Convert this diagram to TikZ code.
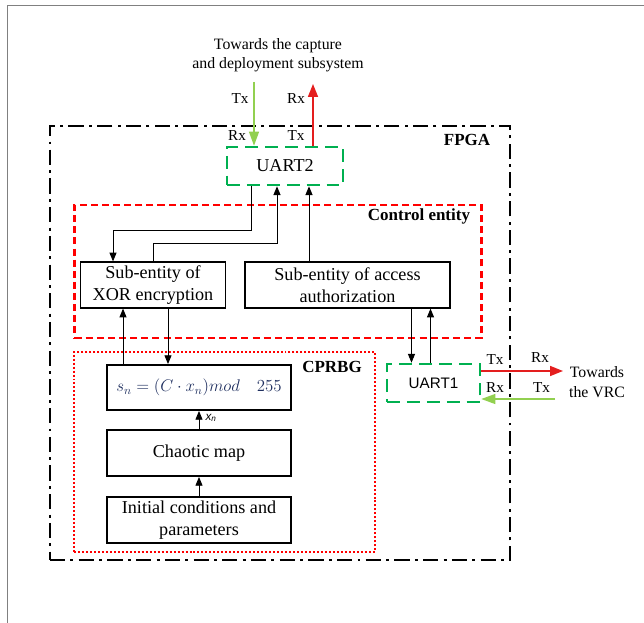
\documentclass[tikz,border=0pt]{standalone}
\usepackage{fontspec}
\setmainfont{Liberation Serif}
\newfontfamily\serifx{Liberation Serif}
\newfontfamily\uartsans{Liberation Sans}
\usetikzlibrary{arrows.meta}
\definecolor{boxgreen}{HTML}{00B050}
\definecolor{lightgreen}{HTML}{92D050}
\definecolor{mathnavy}{HTML}{1F2F5F}
\definecolor{arrred}{HTML}{E41E1E}
\begin{document}
\begin{tikzpicture}[x=0.03cm,y=-0.03cm,
  blk/.style={draw, line width=1.6pt, align=center, inner sep=0pt,
    font=\serifx\fontsize{15.5}{18.5}\selectfont},
  uartbox/.style={draw=boxgreen, line width=2.2pt, dash pattern=on 11pt off 6pt,
    inner sep=0pt, minimum width=3.48cm, minimum height=1.14cm},
  fpgabox/.style={draw, line width=2pt, dash pattern=on 13pt off 4.5pt on 2.5pt off 4.5pt,
    inner sep=0pt},
  ctrlbox/.style={draw=red, line width=2pt, dash pattern=on 6pt off 3.5pt, inner sep=0pt},
  prbgbox/.style={draw=red, line width=1.7pt, dash pattern=on 1.7pt off 1.7pt, inner sep=0pt},
  conn/.style={line width=0.8pt, -{Triangle[length=7.5pt,width=6pt]}},
  greenarr/.style={draw=lightgreen, line width=1.2pt, -{Triangle[length=12pt,width=8.5pt]}},
  redarr/.style={draw=arrred, line width=1.2pt, -{Triangle[length=11pt,width=8.5pt]}},
  lbl/.style={font=\serifx\fontsize{13}{15}\selectfont, inner sep=0pt},
  grp/.style={font=\serifx\bfseries\fontsize{14.5}{17}\selectfont, inner sep=0pt},
  ext/.style={font=\serifx\fontsize{13.5}{16.5}\selectfont, align=center, inner sep=0pt}
]
\useasboundingbox (0,0) rectangle (644,623);
\draw[gray, line width=0.6pt] (7,623) -- (7,5) -- (644,5);

% containers
\node[fpgabox, minimum width=13.8cm, minimum height=13.02cm] (fpga) at (280,343) {};
\node[grp] (fpgalbl) at (467,140) {FPGA};
\node[ctrlbox, minimum width=12.21cm, minimum height=3.99cm] (ctrl) at (278,271.5) {};
\node[grp] (ctrllbl) at (419,216.5) {Control entity};
\node[prbgbox, minimum width=9.03cm, minimum height=6cm] (prbg) at (224.5,452) {};
\node[grp] (prbglbl) at (332,366.5) {CPRBG};

% blocks
\node[uartbox, font=\serifx\fontsize{15.5}{18}\selectfont] (uart2) at (285,166) {UART2};
\node[uartbox, minimum width=2.79cm, font=\uartsans\fontsize{13}{15}\selectfont] (uart1) at (433.5,383) {UART1};
\node[blk, minimum width=4.35cm, minimum height=1.36cm] (xor) at (153,285) {Sub-entity of\\XOR encryption};
\node[blk, minimum width=6.15cm, minimum height=1.36cm] (access) at (347.5,285) {Sub-entity of access\\authorization};
\node[blk, minimum width=5.52cm, minimum height=1.35cm, font=\fontsize{14.4}{17}\selectfont] (sn) at (199,387.5)
  {\color{mathnavy}$s_n=(C\cdot x_n)mod\quad 255$};
\node[blk, minimum width=5.52cm, minimum height=1.38cm] (chaos) at (199,453) {Chaotic map};
\node[blk, minimum width=5.52cm, minimum height=1.38cm] (init) at (199,520) {Initial conditions and\\parameters};

% internal connectors
\coordinate (b1) at (251,230);
\coordinate (b2) at (113,230);
\coordinate (b3) at (153,243);
\coordinate (b4) at (277,243);
\coordinate (c3) at (309,0);
\coordinate (c4) at (411.5,0);
\coordinate (c5) at (430.5,0);
\coordinate (c6) at (168,0);
\coordinate (c7) at (123,0);
\draw[conn] (uart2.south -| b1) -- (b1) -- (b2) -- (xor.north -| b2);
\draw[conn] (xor.north -| b3) -- (b3) -- (b4) -- (uart2.south -| b4);
\draw[conn] (access.north -| c3) -- (uart2.south -| c3);
\draw[conn] (access.south -| c4) -- (uart1.north -| c4);
\draw[conn] (uart1.north -| c5) -- (access.south -| c5);
\draw[conn] (xor.south -| c6) -- (sn.north -| c6);
\draw[conn] (sn.north -| c7) -- (xor.south -| c7);
\draw[conn] (chaos.north) -- (sn.south);
\draw[conn] (init.north) -- (chaos.south);
\node[inner sep=0pt, font=\uartsans\itshape\fontsize{10}{12}\selectfont] (xn) at (211,418) {x\textsubscript{n}};

% external links, top
\node[ext] (towcap) at (278,55.5) {Towards the capture\\and deployment subsystem};
\coordinate (gtop) at (254,82);
\coordinate (rtop) at (313,84);
\draw[greenarr] (gtop) -- (uart2.north -| gtop);
\draw[redarr] (uart2.north -| rtop) -- (rtop);
\node[lbl] (t1) at (240,99) {Tx};
\node[lbl] (r1) at (296,99) {Rx};
\node[lbl] (r2) at (237,136) {Rx};
\node[lbl] (t2) at (296,136) {Tx};

% external links, right
\coordinate (rend) at (563,371);
\coordinate (gstart) at (555,399);
\draw[redarr] (uart1.east |- rend) -- (rend);
\draw[greenarr] (gstart) -- (uart1.east |- gstart);
\node[lbl] (t3) at (495,360) {Tx};
\node[lbl] (r3) at (540,358) {Rx};
\node[lbl] (r4) at (495,388) {Rx};
\node[lbl] (t4) at (541.5,388) {Tx};
\node[ext] (towvrc) at (597,382) {Towards\\the VRC};
\end{tikzpicture}
\end{document}
